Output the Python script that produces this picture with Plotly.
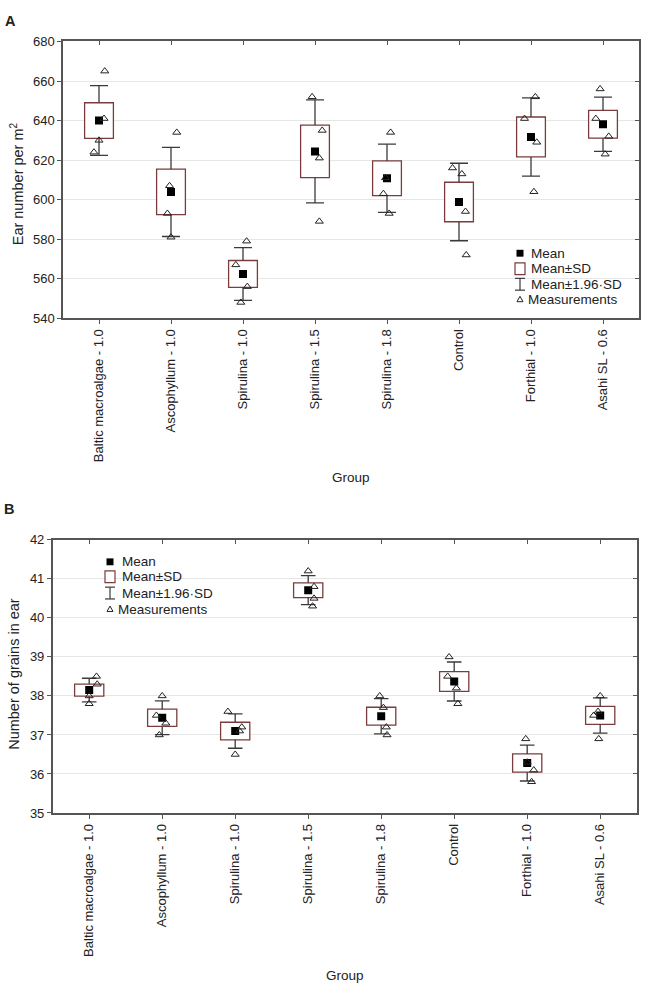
import plotly.graph_objects as go

W, H = 666, 997

groups = ["Baltic macroalgae - 1.0", "Ascophyllum - 1.0", "Spirulina - 1.0", "Spirulina - 1.5",
          "Spirulina - 1.8", "Control", "Forthial - 1.0", "Asahi SL - 0.6"]

# Panel A: ear number per m2
ear_mean = [640.0, 603.9, 562.4, 624.4, 610.8, 598.8, 631.7, 638.1]
ear_sd = [9.0, 11.5, 6.8, 13.3, 8.8, 10.0, 10.1, 7.0]
ear_meas = [[665, 641, 630, 624], [634, 607, 593, 581], [579, 567, 556, 548], [652, 635, 621, 589],
            [634, 611, 603, 593], [616, 613, 594, 572], [652, 641, 629, 604], [656, 641, 632, 623]]
ear_jit = [[0.08, 0.07, 0, -0.07], [0.08, -0.02, -0.05, 0], [0.05, -0.1, 0.06, -0.03], [-0.04, 0.1, 0.06, 0.06],
           [0.05, -0.02, -0.05, 0.03], [-0.09, 0.04, 0.09, 0.1], [0.06, -0.09, 0.08, 0.04], [-0.04, -0.1, 0.08, 0.03]]
ear_ticks = [540, 560, 580, 600, 620, 640, 660, 680]

# Panel B: number of grains in ear
grain_mean = [38.15, 37.44, 37.10, 40.71, 37.48, 38.37, 36.28, 37.50]
grain_sd = [0.155, 0.22, 0.225, 0.19, 0.23, 0.255, 0.235, 0.23]
grain_meas = [[38.5, 38.3, 38.0, 37.8], [38.0, 37.5, 37.3, 37.0], [37.6, 37.2, 37.1, 36.5], [41.2, 40.8, 40.5, 40.3],
              [38.0, 37.7, 37.2, 37.0], [39.0, 38.5, 38.2, 37.8], [36.9, 36.3, 36.1, 35.8], [38.0, 37.6, 37.5, 36.9]]
grain_jit = [[0.1, 0.11, 0, 0], [0, -0.08, 0.05, -0.04], [-0.1, 0.09, 0.06, 0], [0, 0.08, 0.08, 0.06],
             [-0.02, 0.03, 0.07, 0.08], [-0.07, -0.09, 0.03, 0.05], [-0.02, 0, 0.09, 0.06], [0, -0.03, -0.09, -0.02]]
grain_ticks = [35, 36, 37, 38, 39, 40, 41, 42]

FONT = "Liberation Sans, Arial, sans-serif"
BOXC = "#7a3c3c"
WHC = "#3a3a3a"
AXC = "#555555"
TXT = "#222222"


def X(px):
    return px / W


def Y(py):
    return 1 - py / H


fig = go.Figure()


def add_panel(means, sds, meas, jit, xa, ya, cap):
    idx = list(range(len(means)))
    # boxes (mean +/- SD)
    fig.add_trace(go.Bar(x=idx, y=[2 * s for s in sds], base=[m - s for m, s in zip(means, sds)],
                         width=0.4, marker=dict(color="white", line=dict(color=BOXC, width=1.3)),
                         xaxis=xa, yaxis=ya, showlegend=False, hoverinfo="skip"))
    # whiskers (mean +/- 1.96 SD)
    wx, wy = [], []
    for i, m, s in zip(idx, means, sds):
        for sgn in (1, -1):
            wx += [i, i, None, i - cap, i + cap, None]
            wy += [m + sgn * s, m + sgn * 1.96 * s, None, m + sgn * 1.96 * s, m + sgn * 1.96 * s, None]
    fig.add_trace(go.Scatter(x=wx, y=wy, mode="lines", line=dict(color=WHC, width=1.3),
                             xaxis=xa, yaxis=ya, showlegend=False, hoverinfo="skip"))
    # means
    fig.add_trace(go.Scatter(x=idx, y=means, mode="markers",
                             marker=dict(symbol="square", size=8, color="black"),
                             xaxis=xa, yaxis=ya, showlegend=False))
    # measurements
    mx, my = [], []
    for i, vals, js in zip(idx, meas, jit):
        for v, j in zip(vals, js):
            mx.append(i + j)
            my.append(v)
    fig.add_trace(go.Scatter(x=mx, y=my, mode="markers",
                             marker=dict(symbol="triangle-up-open", size=7, color="#222",
                                         line=dict(width=1, color="#222")),
                             xaxis=xa, yaxis=ya, showlegend=False))


add_panel(ear_mean, ear_sd, ear_meas, ear_jit, "x", "y", 0.125)
add_panel(grain_mean, grain_sd, grain_meas, grain_jit, "x2", "y2", 0.1)

# dummy traces so mirrored tick axes render
for xa, ya in (("x3", "y"), ("x", "y3"), ("x4", "y2"), ("x2", "y4")):
    fig.add_trace(go.Scatter(x=[None], y=[None], xaxis=xa, yaxis=ya, showlegend=False, hoverinfo="skip"))

tickfont = dict(family=FONT, size=13, color=TXT)
xr = [-0.5, 7.5]

common_x = dict(range=xr, tickmode="array", tickvals=list(range(8)), showgrid=False, zeroline=False)

domA_x = [X(63), X(639)]
domA_y = [Y(316), Y(35)]
domB_x = [X(52.7), X(636.7)]
domB_y = [Y(818.3), Y(541)]

fig.update_layout(
    width=W, height=H, margin=dict(l=0, r=0, t=0, b=0),
    paper_bgcolor="white", plot_bgcolor="white", barmode="overlay",
    font=dict(family=FONT, color=TXT),
    xaxis=dict(**common_x, domain=domA_x, anchor="y", ticktext=groups, tickangle=-90,
               ticks="outside", ticklen=4, tickcolor=AXC, showline=True, linecolor=AXC, linewidth=1.5,
               mirror=True, tickfont=tickfont),
    yaxis=dict(domain=domA_y, anchor="x", range=[540, 680], tickmode="array", tickvals=ear_ticks,
               ticks="outside", ticklen=4, tickcolor=AXC, showline=True, linecolor=AXC, linewidth=1.5,
               mirror=True, showgrid=True, gridcolor="#e6e6e6", gridwidth=1, zeroline=False, tickfont=tickfont),
    xaxis3=dict(**common_x, overlaying="x", side="top", anchor="y", ticks="inside", ticklen=4,
                tickcolor=AXC, showticklabels=False, showline=False),
    yaxis3=dict(overlaying="y", side="right", anchor="x", range=[540, 680], tickmode="array",
                tickvals=ear_ticks, ticks="inside", ticklen=4, tickcolor=AXC, showticklabels=False,
                showgrid=False, zeroline=False, showline=False),
    xaxis2=dict(**common_x, domain=domB_x, anchor="y2", ticktext=groups, tickangle=-90,
                ticks="outside", ticklen=4, tickcolor=AXC, showline=True, linecolor=AXC, linewidth=1.5,
                mirror=True, tickfont=tickfont),
    yaxis2=dict(domain=domB_y, anchor="x2", range=[35, 42], tickmode="array", tickvals=grain_ticks,
                ticks="outside", ticklen=4, tickcolor=AXC, showline=True, linecolor=AXC, linewidth=1.5,
                mirror=True, showgrid=True, gridcolor="#e6e6e6", gridwidth=1, zeroline=False, tickfont=tickfont),
    xaxis4=dict(**common_x, overlaying="x2", side="top", anchor="y2", ticks="inside", ticklen=4,
                tickcolor=AXC, showticklabels=False, showline=False),
    yaxis4=dict(overlaying="y2", side="right", anchor="x2", range=[35, 42], tickmode="array",
                tickvals=grain_ticks, ticks="inside", ticklen=4, tickcolor=AXC, showticklabels=False,
                showgrid=False, zeroline=False, showline=False),
)

ann = []
shapes = []


def text(x, y, s, size=13.5, angle=0, xanchor="center", bold=False):
    ann.append(dict(x=X(x), y=Y(y), xref="paper", yref="paper", text=("<b>%s</b>" % s) if bold else s,
                    showarrow=False, textangle=angle, xanchor=xanchor, yanchor="middle",
                    font=dict(family=FONT, size=size, color=TXT)))


text(10, 14, "A", size=14.5, bold=True)
text(9, 510, "B", size=14.5, bold=True)
text(17, 180, "Ear number per m<sup>2</sup>", size=14.5, angle=-90)
text(14, 677, "Number of grains in ear", size=14.5, angle=-90)
text(351, 478, "Group", size=13.5)
text(345, 983, "Group", size=13.5)


def legend(sx, ys, tx, tx4):
    # ys: centers of 4 rows
    shapes.append(dict(type="rect", xref="paper", yref="paper", x0=X(sx - 3.5), x1=X(sx + 3.5),
                       y0=Y(ys[0] + 3.5), y1=Y(ys[0] - 3.5), fillcolor="black", line=dict(width=0)))
    text(tx, ys[0], "Mean", xanchor="left")
    shapes.append(dict(type="rect", xref="paper", yref="paper", x0=X(sx - 5), x1=X(sx + 5),
                       y0=Y(ys[1] + 6), y1=Y(ys[1] - 6), fillcolor="white", line=dict(color=BOXC, width=1.2)))
    text(tx, ys[1], "Mean±SD", xanchor="left")
    for (a, b, c, d) in ((sx, ys[2] - 6, sx, ys[2] + 6), (sx - 5, ys[2] - 6, sx + 5, ys[2] - 6),
                         (sx - 5, ys[2] + 6, sx + 5, ys[2] + 6)):
        shapes.append(dict(type="line", xref="paper", yref="paper", x0=X(a), y0=Y(b), x1=X(c), y1=Y(d),
                           line=dict(color=WHC, width=1.2)))
    text(tx, ys[2], "Mean±1.96·SD", xanchor="left")
    t = ys[3]
    path = "M %f %f L %f %f L %f %f Z" % (X(sx - 3), Y(t + 2.5), X(sx + 3), Y(t + 2.5), X(sx), Y(t - 3))
    shapes.append(dict(type="path", xref="paper", yref="paper", path=path, line=dict(color="#222", width=1)))
    text(tx4, ys[3], "Measurements", xanchor="left")


legend(520, [250, 265.7, 281.5, 296.7], 529, 525.5)
legend(110, [563.3, 578.5, 595, 611.2], 119.5, 115.5)

fig.update_layout(annotations=ann, shapes=shapes)

fig.write_html("out.html", config={"displayModeBar": False},
               post_script="document.body.style.margin='0px';")
